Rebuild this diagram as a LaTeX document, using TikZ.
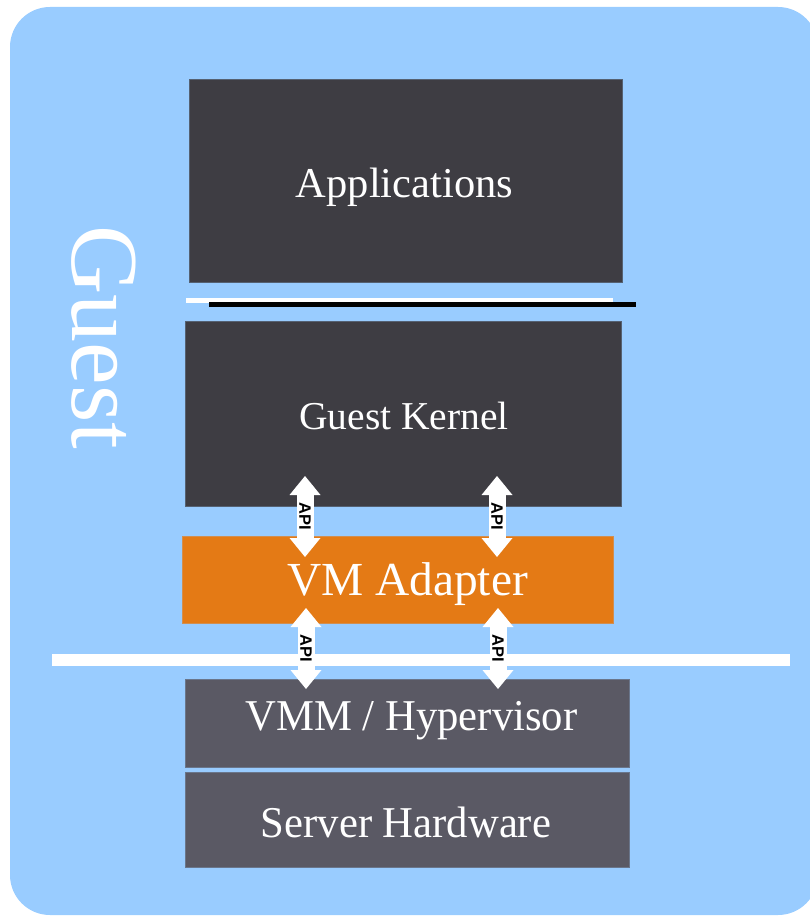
\documentclass[tikz,border=0pt]{standalone}
\usepackage{fontspec}
\setmainfont{Liberation Serif}
\newfontfamily\srvfont[FakeStretch=0.97]{Liberation Serif}
\newfontfamily\apifont{Liberation Sans}
\usetikzlibrary{arrows.meta,calc}
\definecolor{bgblue}{HTML}{99CCFF}
\definecolor{darkbox}{HTML}{3E3D43}
\definecolor{midbox}{HTML}{5A5964}
\definecolor{adapter}{HTML}{E47A15}
\begin{document}
\begin{tikzpicture}[x=1pt,y=-1pt,
  layerbox/.style={anchor=north west, inner sep=0pt, draw=#1!75!bgblue, line width=0.8pt, fill=#1},
  layertext/.style={anchor=base, inner sep=0pt, text=white},
  sepline/.style={line width=#1, line cap=butt},
  apiarrow/.style={draw=white, line width=17pt,
    {Triangle[width=31pt,length=19pt,line width=0pt]}-{Triangle[width=31pt,length=19pt,line width=0pt]}},
  apitext/.style={rotate=-90, inner sep=0pt, font=\apifont\bfseries\fontsize{16.5}{18}\selectfont, text=black}
]
\useasboundingbox (0,0) rectangle (810,917);
% background
\fill[bgblue, rounded corners=40pt] (10,7) rectangle (818,915);

% boxes
\node[layerbox=darkbox, minimum width=433pt, minimum height=203pt] (apps) at (189,79) {};
\node[layerbox=darkbox, minimum width=436pt, minimum height=185pt] (kernel) at (185,321) {};
\node[layerbox=adapter, minimum width=431pt, minimum height=87pt] (adapter) at (182,536) {};
\node[layerbox=midbox, minimum width=444pt, minimum height=88pt] (vmm) at (185,679) {};
\node[layerbox=midbox, minimum width=444pt, minimum height=95pt] (hw) at (185,772) {};

% texts
\node[layertext, font=\fontsize{42.5}{50}\selectfont] (appsT) at (404.5,198) {Applications};
\node[layertext, font=\fontsize{39.5}{46}\selectfont] (kernelT) at (404,429) {Guest Kernel};
\node[layertext, font=\fontsize{47.4}{55}\selectfont] (adapterT) at (407.5,595) {VM Adapter};
\node[layertext, font=\srvfont\fontsize{44}{50}\selectfont] (vmmT) at (411.5,730) {VMM / Hypervisor};
\node[layertext, font=\srvfont\fontsize{44}{50}\selectfont] (hwT) at (406,837) {Server Hardware};

\node[rotate=-90, anchor=base west, inner sep=0pt, text=white, font=\fontsize{96}{100}\selectfont] (guest) at (72,225) {Guest};

% separator lines
\draw[white, sepline=5pt] (186,300) -- (613,300);
\draw[black, sepline=5pt] (209,304.5) -- (636,304.5);
\draw[white, sepline=12pt] (52,660) -- (790,660);

% API arrows
\coordinate (u1t) at (305,476); \coordinate (u1b) at (305,557);
\coordinate (u2t) at (497,476); \coordinate (u2b) at (497,557);
\coordinate (l1t) at (306,608); \coordinate (l1b) at (306,689);
\coordinate (l2t) at (498,608); \coordinate (l2b) at (498,689);
\draw[apiarrow] (u1t) -- (u1b);
\draw[apiarrow] (u2t) -- (u2b);
\draw[apiarrow] (l1t) -- (l1b);
\draw[apiarrow] (l2t) -- (l2b);
\node[apitext] (api1) at ($(u1t)!0.5!(u1b)$) {API};
\node[apitext] (api2) at ($(u2t)!0.5!(u2b)$) {API};
\node[apitext] (api3) at ($(l1t)!0.5!(l1b)$) {API};
\node[apitext] (api4) at ($(l2t)!0.5!(l2b)$) {API};
\end{tikzpicture}
\end{document}
